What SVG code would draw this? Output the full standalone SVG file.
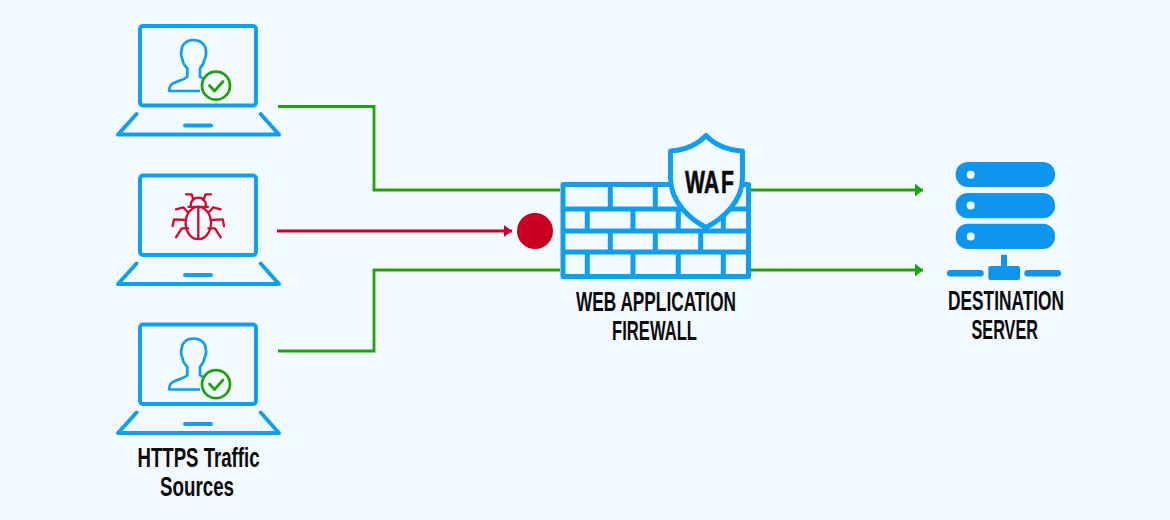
<svg xmlns="http://www.w3.org/2000/svg" xmlns:xlink="http://www.w3.org/1999/xlink" width="1170" height="520" viewBox="0 0 1170 520">
<style>
.lap{fill:none;stroke:#0f9ff0;stroke-width:3.900;stroke-linejoin:round;stroke-linecap:round}
.person{fill:none;stroke:#0f9ff0;stroke-width:2.700;stroke-linejoin:round}
.ok{fill:none;stroke:#1fa30a;stroke-width:2.700;stroke-linecap:round;stroke-linejoin:round}
.bug{fill:none;stroke:#cf0a2c;stroke-width:2.300;stroke-linejoin:round;stroke-linecap:round}
.wire{fill:none;stroke-width:2.800;stroke-linejoin:miter}
.g{stroke:#1fa30a}
.r{stroke:#c8002a}
.wall{fill:none;stroke:#0f9ff0;stroke-width:5;stroke-linejoin:round}
.brick{fill:none;stroke:#0f9ff0;stroke-width:5}
.srv{fill:#0d96ee}
.lbl{font-family:"Liberation Sans Narrow","Liberation Sans",Arial,sans-serif;font-weight:700;fill:#0b0b0b;font-size:28px}
</style>
<defs>
<marker id="ag" markerUnits="userSpaceOnUse" markerWidth="10" markerHeight="14" refX="9" refY="7" orient="auto"><path d="M1 0.500L9 7L1 13.500Z" fill="#1fa30a"/></marker>
<marker id="ar" markerUnits="userSpaceOnUse" markerWidth="10" markerHeight="14" refX="9" refY="7" orient="auto"><path d="M1 1L9 7L1 13Z" fill="#c8002a"/></marker>
<g id="laptop">
<rect class="lap" x="140" y="26" width="116" height="79.500" rx="3"/>
<path class="lap" d="M136.500 114L118 134.500H279L260.700 114"/>
<path class="lap" d="M185 125.500H211"/>
</g>
<g id="user">
<path class="person" d="M200 91H169.300C169.300 87 170 85.500 171.700 84.300C176 81 183 80.500 187.300 76.700V68.300C184.500 65.500 182.700 63 182.700 60C180.800 56 181 52 181.700 50C181.700 45 186 40 193.300 40C200.500 40 205.700 44.500 205.700 50C206.500 53 205.800 57 204.300 60C204 63 202 66 200 68.300V76.700L202.700 78.300"/>
<circle class="ok" cx="216" cy="85.700" r="14"/>
<path class="ok" d="M209.500 85.500L214.500 91L223 81.500"/>
</g>
</defs>
<rect width="1170" height="520" fill="#f2faff"/>
<g id="connectors">
<path class="wire g" d="M278 106.500H374V190H560"/>
<path class="wire r" d="M277 231H512" marker-end="url(#ar)"/>
<path class="wire g" d="M278 351H374V270H560"/>
<path class="wire g" d="M750 190H923" marker-end="url(#ag)"/>
<path class="wire g" d="M750 270H923" marker-end="url(#ag)"/>
</g>
<g id="source-1"><use href="#laptop"/><use href="#user"/></g>
<g id="source-2">
<use href="#laptop" y="149.500"/>
<g class="bug">
<ellipse cx="198.300" cy="223" rx="12.700" ry="16.200"/>
<path d="M188.500 206.800H208M198.300 206.800V239"/>
<path d="M190.700 205.700C191 200.500 194 197.700 198.300 197.700C202.600 197.700 205.500 200.500 206 205.700"/>
<path d="M186 194.300H191.700L193.300 200M211 194.300H205.700L203.300 200"/>
<path d="M187.300 211.700L183.300 207.300L176 209.300M209.300 211.700L213.300 207.300L220.700 209.300"/>
<path d="M186 220L174 219.300L172.700 226M210.700 220L222.700 219.300L224 226"/>
<path d="M188.300 228.300H181.700L176 237.300M208.300 228.300H215L220.700 237.300"/>
</g>
</g>
<g id="source-3">
<use href="#laptop" y="298.500"/><use href="#user" y="298.500"/>
<text class="lbl" x="137.500" y="467" textLength="122" lengthAdjust="spacingAndGlyphs">HTTPS Traffic</text>
<text class="lbl" x="160" y="496" textLength="74" lengthAdjust="spacingAndGlyphs">Sources</text>
</g>
<circle id="blocked" cx="535" cy="231" r="18" fill="#c8001f"/>
<g id="firewall">
<rect x="563" y="184.500" width="185.500" height="92" fill="#f2faff" class="wall"/>
<path class="brick" d="M563 209H748M563 231H748M563 252H748"/>
<path class="brick" d="M610.300 184.500V209M655.300 184.500V209M700.700 184.500V209M587.300 209V231M633 209V231M678.300 209V231M723.300 209V231M610.300 231V252M655.300 231V252M700.700 231V252M587.300 252V276.500M633 252V276.500M678.300 252V276.500M723.300 252V276.500"/>
<path d="M706 135.500C697 145 685 150 670.500 151V178C670.500 202 690 219 706 227.500C722 219 742.500 202 742.500 178V151C727 150 715 145 706 135.500Z" fill="#f2faff" stroke="#0f9ff0" stroke-width="5" stroke-linejoin="round"/>
<text class="lbl" x="0 28 53" y="0" transform="translate(685 192.500) scale(.68 1)" style="font-size:31px;stroke:#0b0b0b;stroke-width:.7">WAF</text>
<text class="lbl" x="576" y="311" textLength="160" lengthAdjust="spacingAndGlyphs">WEB APPLICATION</text>
<text class="lbl" x="612" y="340" textLength="85" lengthAdjust="spacingAndGlyphs">FIREWALL</text>
</g>
<g id="server">
<rect class="srv" x="955.700" y="162" width="99.300" height="25" rx="12"/>
<rect class="srv" x="955.700" y="193" width="99.300" height="25.300" rx="12"/>
<rect class="srv" x="955.700" y="223.700" width="99.300" height="25.300" rx="12"/>
<circle cx="970.700" cy="174.700" r="4" fill="#f2faff"/>
<circle cx="970.700" cy="205.500" r="4" fill="#f2faff"/>
<circle cx="970.700" cy="236.500" r="4" fill="#f2faff"/>
<rect class="srv" x="1001" y="254.700" width="6" height="13"/>
<rect class="srv" x="988.300" y="266" width="31.700" height="14" rx="2"/>
<rect class="srv" x="947" y="270" width="36.700" height="6.500" rx="3.200"/>
<rect class="srv" x="1024.300" y="270" width="36.700" height="6.500" rx="3.200"/>
<text class="lbl" x="948" y="310" textLength="116" lengthAdjust="spacingAndGlyphs">DESTINATION</text>
<text class="lbl" x="971.500" y="339" textLength="66.500" lengthAdjust="spacingAndGlyphs">SERVER</text>
</g>
</svg>
